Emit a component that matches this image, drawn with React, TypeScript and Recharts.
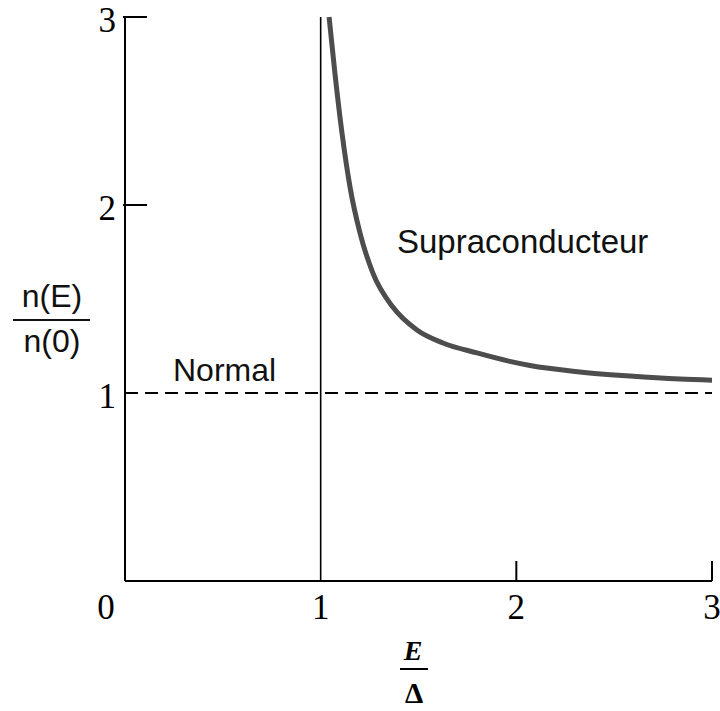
import React from 'react';
import { LineChart, Line, XAxis, YAxis, ReferenceLine } from 'recharts';

// E/Δ values
const energyRatio = [1.043, 1.073, 1.109, 1.15, 1.201, 1.267, 1.369, 1.492, 1.625, 1.799, 1.967, 2.07, 2.325, 2.58, 2.836, 3.0];
// n(E)/n(0) values
const densityRatio = [3.0, 2.7, 2.383, 2.096, 1.851, 1.638, 1.457, 1.335, 1.266, 1.213, 1.168, 1.146, 1.112, 1.09, 1.074, 1.068];
const xTicks = [0, 1, 2, 3];
const yTicks = [1, 2, 3];
const normalLevel = 1;
const gapEdge = 1;

const data = energyRatio.map((x, i) => ({ x, y: densityRatio[i] }));

const SERIF = "'Liberation Serif', 'Times New Roman', serif";
const SANS = "'Liberation Sans', Arial, sans-serif";

const XTick = (props: any) => {
  const { x, y, payload } = props;
  const v = payload.value;
  return (
    <g>
      {(v === 2 || v === 3) && (
        <line x1={x} x2={x} y1={y} y2={y - 20} stroke="#000" strokeWidth={2} />
      )}
      <text x={v === 0 ? x - 19 : x} y={y + 38} textAnchor="middle" fontFamily={SERIF} fontSize={35} fill="#000">
        {v}
      </text>
    </g>
  );
};

const YTick = (props: any) => {
  const { x, y, payload } = props;
  const v = payload.value;
  return (
    <g>
      {(v === 2 || v === 3) && (
        <line x1={x - 2} x2={x + 22} y1={y} y2={y} stroke="#000" strokeWidth={2} />
      )}
      <text x={x - 9} y={y + 15} textAnchor="end" fontFamily={SERIF} fontSize={35} fill="#000">
        {v}
      </text>
    </g>
  );
};

export default function App() {
  return (
    <div style={{ position: 'absolute', left: 0, top: 0, width: 720, height: 711, background: '#fff' }}>
      <LineChart
        width={720}
        height={711}
        data={data}
        margin={{ top: 17, right: 8, bottom: 100, left: 65 }}
      >
        <XAxis
          type="number"
          dataKey="x"
          domain={[0, 3]}
          ticks={xTicks}
          height={30}
          tickLine={false}
          tickSize={0}
          tickMargin={0}
          axisLine={{ stroke: '#000', strokeWidth: 2 }}
          tick={<XTick />}
          interval={0}
        />
        <YAxis
          type="number"
          domain={[0, 3]}
          ticks={yTicks}
          width={60}
          tickLine={false}
          tickSize={0}
          tickMargin={0}
          axisLine={{ stroke: '#000', strokeWidth: 2 }}
          tick={<YTick />}
          interval={0}
        />
        <ReferenceLine x={gapEdge} stroke="#000" strokeWidth={1.6} />
        <ReferenceLine y={normalLevel} stroke="#000" strokeWidth={2} strokeDasharray="13 7" />
        <Line
          type="monotone"
          dataKey="y"
          stroke="#4d4d4d"
          strokeWidth={5}
          dot={false}
          isAnimationActive={false}
        />
      </LineChart>
      <svg
        width={720}
        height={711}
        style={{ position: 'absolute', left: 0, top: 0, pointerEvents: 'none' }}
      >
        <text x={397} y={253} fontFamily={SANS} fontSize={33} fill="#111">Supraconducteur</text>
        <text x={173} y={381} fontFamily={SANS} fontSize={32} fill="#111">Normal</text>
        <text x={52} y={307} textAnchor="middle" fontFamily={SANS} fontSize={32} fill="#111">n(E)</text>
        <line x1={13} x2={90} y1={320} y2={320} stroke="#111" strokeWidth={2} />
        <text x={52} y={352} textAnchor="middle" fontFamily={SANS} fontSize={32} fill="#111">n(0)</text>
        <text x={413} y={660} textAnchor="middle" fontFamily={SERIF} fontStyle="italic" fontWeight="bold" fontSize={28} fill="#000">E</text>
        <line x1={400} x2={428} y1={669} y2={669} stroke="#000" strokeWidth={2} />
        <text x={414} y={703} textAnchor="middle" fontFamily={SERIF} fontWeight="bold" fontSize={29} fill="#000">Δ</text>
      </svg>
    </div>
  );
}
